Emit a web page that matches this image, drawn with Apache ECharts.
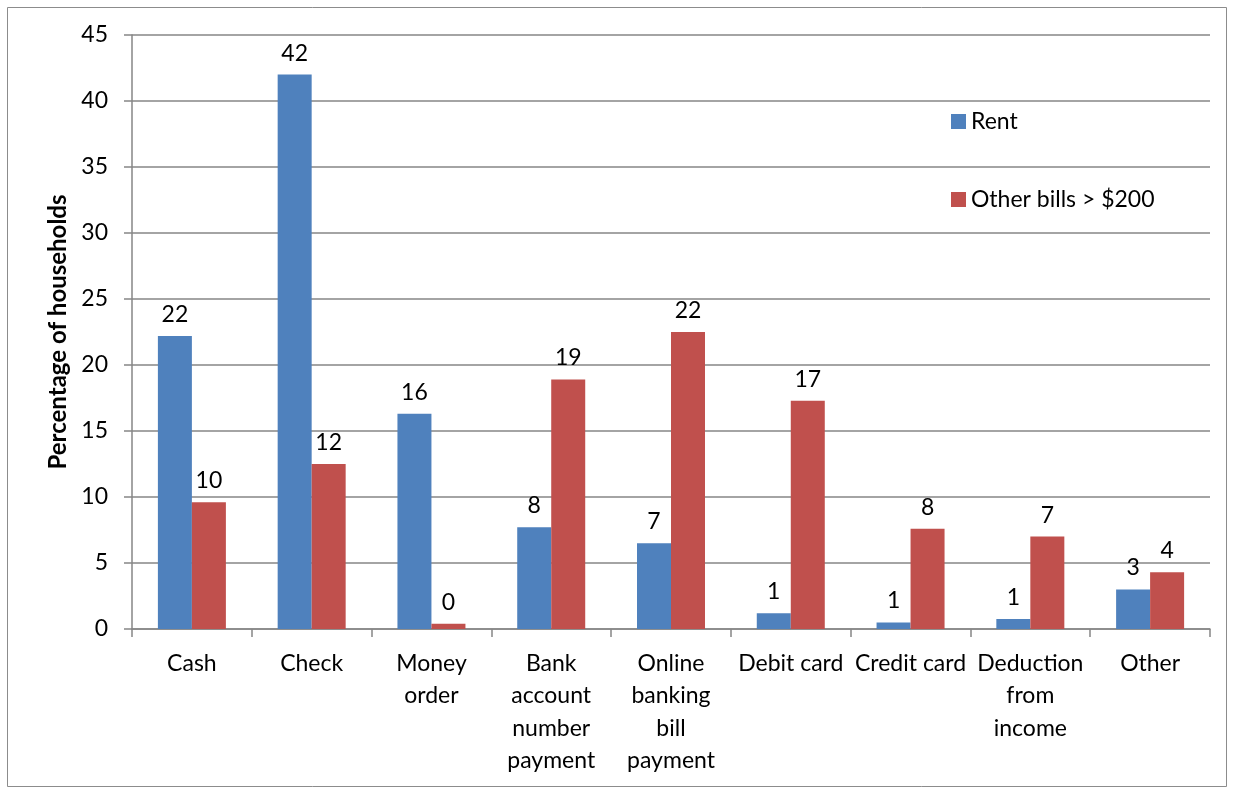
<!DOCTYPE html>
<html style="height: 100%">
<head>
    <meta charset="utf-8">
</head>
<body style="height: 100%; margin: 0">
<div id="container" style="height: 100%"></div>
<script type="text/javascript" src="https://cdn.jsdelivr.net/npm/echarts@6/dist/echarts.min.js"></script>
<script type="text/javascript">
  // payment methods, line breaks as in the original axis
  const categories = [
    'Cash',
    'Check',
    'Money\norder',
    'Bank\naccount\nnumber\npayment',
    'Online\nbanking\nbill\npayment',
    'Debit card',
    'Credit card',
    'Deduction\nfrom\nincome',
    'Other'
  ];
  const rentValues = [22.2, 42.0, 16.3, 7.7, 6.5, 1.2, 0.5, 0.75, 3.0];
  const otherValues = [9.6, 12.5, 0.4, 18.9, 22.5, 17.3, 7.6, 7.0, 4.3];
  // labels printed on the bars (rounded in the source)
  const rentLabels = [22, 42, 16, 8, 7, 1, 1, 1, 3];
  const otherLabels = [10, 12, 0, 19, 22, 17, 8, 7, 4];
  const yTicks = [0, 5, 10, 15, 20, 25, 30, 35, 40, 45];

  const font = 'Lato, "Open Sans", sans-serif';
  var dom = document.getElementById("container");
  var myChart = echarts.init(dom);
  var option;

  function barLabel (labels) {
    return {
      show: true,
      position: 'top',
      distance: 10,
      fontFamily: font,
      fontSize: 23,
      color: '#000',
      formatter: p => String(labels[p.dataIndex])
    }
  }

  option = {
    animation: false,
    backgroundColor: '#fff',
    textStyle: { fontFamily: font },
    graphic: [{
      type: 'rect',
      shape: { x: 7.5, y: 7.5, width: 1219, height: 779 },
      style: { fill: 'none', stroke: '#8c8c8c', lineWidth: 1 }
    }],
    legend: {
      orient: 'vertical',
      left: 946,
      top: 105,
      itemGap: 55,
      itemWidth: 15,
      itemHeight: 15,
      icon: 'rect',
      textStyle: { fontFamily: font, fontSize: 23, color: '#000' },
      data: ['Rent', 'Other bills > $200']
    },
    grid: { left: 132, right: 23, top: 35, bottom: 164 },
    xAxis: {
      type: 'category',
      data: categories,
      axisLine: { lineStyle: { color: '#868686', width: 1.5 } },
      axisTick: { show: true, length: 8, lineStyle: { color: '#868686', width: 1.5 } },
      axisLabel: {
        interval: 0,
        margin: 18,
        fontFamily: font,
        fontSize: 23,
        lineHeight: 32.5,
        color: '#000'
      }
    },
    yAxis: {
      type: 'value',
      min: 0,
      max: 45,
      interval: 5,
      name: 'Percentage of households',
      nameLocation: 'middle',
      nameGap: 61,
      nameTextStyle: { fontFamily: font, fontSize: 24, fontWeight: 'bold', color: '#000' },
      axisLine: { show: true, lineStyle: { color: '#868686', width: 1.5 } },
      axisTick: { show: true, length: 8, lineStyle: { color: '#868686', width: 1.5 } },
      splitLine: { lineStyle: { color: '#868686', width: 1.5 } },
      axisLabel: {
        margin: 24,
        fontFamily: font,
        fontSize: 23,
        color: '#000',
        formatter: v => yTicks.includes(v) ? String(v) : ''
      }
    },
    series: [
      {
        name: 'Rent',
        type: 'bar',
        data: rentValues,
        barWidth: 34,
        barGap: '0%',
        itemStyle: { color: '#4F81BD' },
        label: barLabel(rentLabels)
      },
      {
        name: 'Other bills > $200',
        type: 'bar',
        data: otherValues,
        barWidth: 34,
        barGap: '0%',
        itemStyle: { color: '#C0504D' },
        label: barLabel(otherLabels)
      }
    ]
  };

  if (option && typeof option === 'object') {
    myChart.setOption(option);
  }
</script>
</body>
</html>
